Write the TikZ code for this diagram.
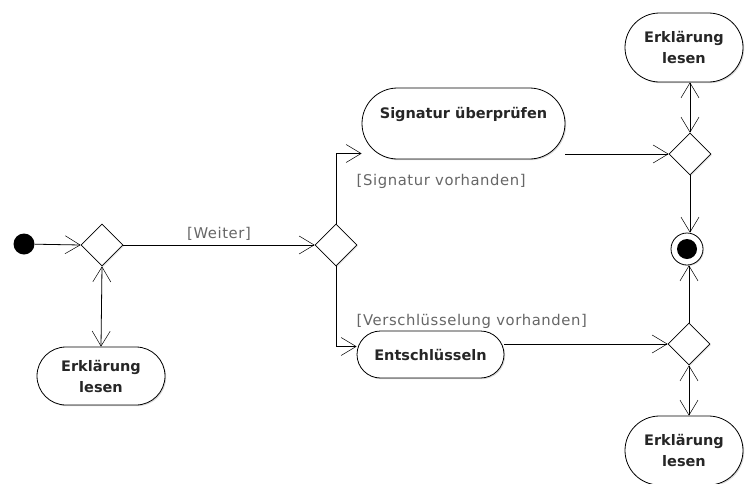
\documentclass[tikz,border=0pt]{standalone}
\usepackage{fontspec}
\setmainfont{DejaVu Sans}
\newfontfamily\guardfont{DejaVu Sans}[LetterSpace=4]
\usepackage{tikz}
\usetikzlibrary{arrows.meta, shapes.geometric, shapes.misc, shadows, positioning}

\begin{document}
\begin{tikzpicture}[x=1pt, y=-1pt, line width=0.8pt,
    >={Straight Barb[length=15pt,width=18pt,line width=0.5pt]},
    action/.style   = {rounded rectangle, draw, fill=white, align=center,
      inner sep=0pt, font=\bfseries\fontsize{14.5}{21}\selectfont,
      text=black!85,
      drop shadow={shadow xshift=1.2pt, shadow yshift=-1.2pt, opacity=0.3}},
    decision/.style = {diamond, draw, fill=white, inner sep=0pt,
      minimum width=42, minimum height=42,
      drop shadow={shadow xshift=1pt, shadow yshift=-1pt, opacity=0.25}},
    guard/.style    = {font=\guardfont\fontsize{14.8}{16}\selectfont, text=black!60},
  ]
  \useasboundingbox (0,0) rectangle (745,483);

  \node[circle, fill=black, minimum size=21, inner sep=0pt] (start) at (24,244) {};
  \node[decision] (decHelp) at (102,245) {};
  \node[action, minimum width=128, minimum height=58] (helpLeft) at (101,376) {Erklärung\\lesen};
  \node[decision] (decKind) at (336,245) {};
  \node[action, minimum width=203, minimum height=71, text depth=22pt] (checkSig) at (463.5,123.5) {Signatur überprüfen};
  \node[action, minimum width=147, minimum height=47] (decrypt) at (430.5,354.5) {Entschlüsseln};
  \node[decision] (decSig) at (690,154) {};
  \node[decision] (decCrypt) at (689,344) {};
  \node[action, minimum width=118, minimum height=69] (helpTop) at (684,47.5) {Erklärung\\lesen};
  \node[action, minimum width=118, minimum height=69] (helpBottom) at (684,450.5) {Erklärung\\lesen};
  \node[circle, draw, fill=white, minimum size=32, inner sep=0pt,
    drop shadow={shadow xshift=1pt, shadow yshift=-1pt, opacity=0.25}] (final) at (687,249) {};
  \fill (final.center) circle (10);

  \draw[->] (start) -- (decHelp.west);
  \draw[->] (decHelp.east) -- node[guard, above=1pt] (weiter) {[Weiter]} (decKind.west);
  \draw[<->] (decHelp.south) -- (helpLeft.north);
  \draw[->] (decKind.north) |- ([yshift=-30pt]checkSig.west);
  \draw[->] (decKind.south) |- ([yshift=8pt]decrypt.west);
  \node[guard, anchor=west] (sigGuard) at (353,181) {[Signatur vorhanden]};
  \node[guard, anchor=west] (cryptGuard) at (353,321) {[Verschlüsselung vorhanden]};
  \draw[->] (checkSig.east |- decSig.west) -- (decSig.west);
  \draw[->] (decrypt.east |- decCrypt.west) -- (decCrypt.west);
  \draw[<->] (helpTop.south -| decSig.north) -- (decSig.north);
  \draw[->] (decSig.south) -- (decSig.south |- final.north);
  \draw[->] (decCrypt.north) -- (decCrypt.north |- final.south);
  \draw[<->] (decCrypt.south) -- (decCrypt.south |- helpBottom.north);
\end{tikzpicture}
\end{document}
